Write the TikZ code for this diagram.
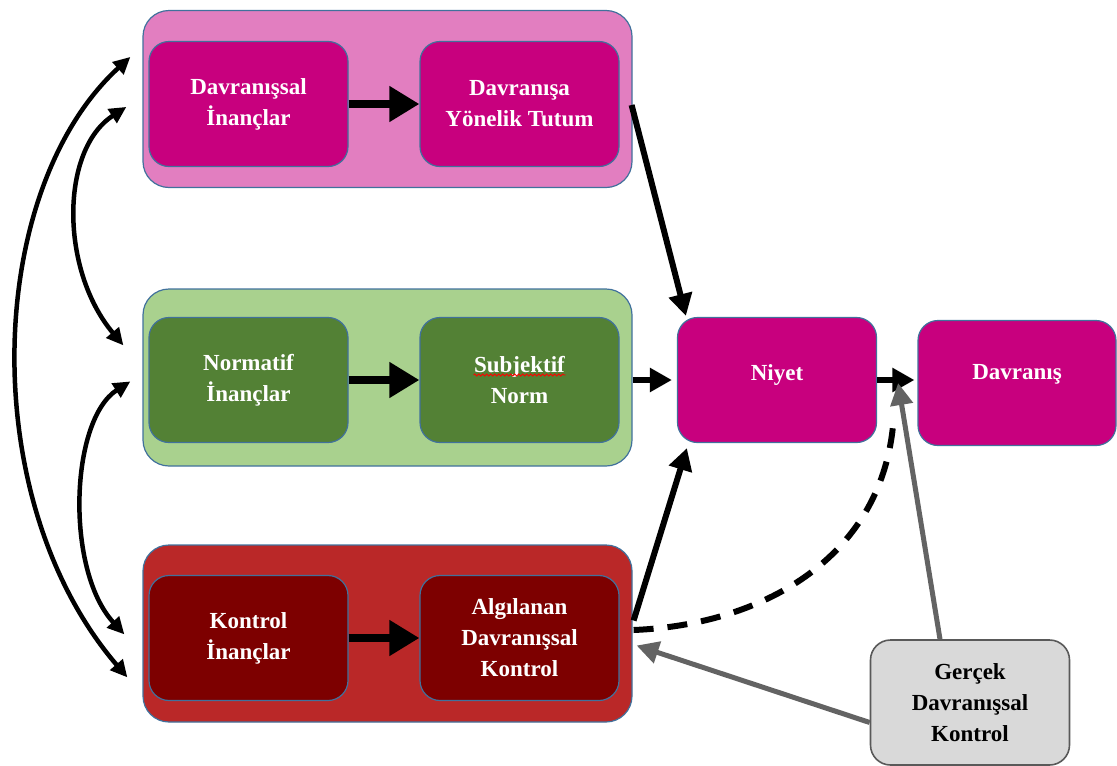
\documentclass[tikz,border=0pt]{standalone}
\usepackage{fontspec}
\setmainfont{Liberation Serif}
\usetikzlibrary{arrows.meta,calc,decorations.pathmorphing}

\definecolor{pinkin}{HTML}{C8007E}
\definecolor{pinkout}{HTML}{E27EC0}
\definecolor{greenin}{HTML}{538135}
\definecolor{greenout}{HTML}{A9D18E}
\definecolor{redin}{HTML}{7D0000}
\definecolor{redout}{HTML}{BA2828}
\definecolor{edgeblue}{HTML}{41719C}
\definecolor{boxgray}{HTML}{D9D9D9}
\definecolor{edgegray}{HTML}{595959}
\definecolor{arrowgray}{HTML}{636363}

\begin{document}
\begin{tikzpicture}[x=1pt,y=-1pt,
  group/.style={draw=edgeblue, line width=1.2pt, rounded corners=26pt,
    minimum width=489pt, minimum height=177pt, inner sep=0pt},
  box/.style={draw=edgeblue, line width=1.2pt, rounded corners=20pt,
    minimum width=199pt, minimum height=125pt, inner sep=0pt, align=center,
    text=white, font=\bfseries\fontsize{23}{31}\selectfont},
  graybox/.style={box, draw=edgegray, line width=1.6pt, fill=boxgray, text=black},
  fat arrow/.style={line width=8pt, -{Triangle[length=30pt,width=34pt]}},
  link arrow/.style={line width=6pt, -{Triangle[length=22pt,width=23pt]}},
  both arrow/.style={line width=4.5pt,
    {Triangle[length=17pt,width=16pt]}-{Triangle[length=17pt,width=16pt]}},
  gray arrow/.style={arrowgray, line width=5pt, -{Triangle[length=22pt,width=22pt]}},
  dash link/.style={line width=6pt, dash pattern=on 20pt off 14pt}
]
\useasboundingbox (0,0) rectangle (1117,766);

% outer groups
\node[group, fill=pinkout]  (grpA) at (387.5,99)   {};
\node[group, fill=greenout] (grpB) at (387.5,377.5) {};
\node[group, fill=redout]   (grpC) at (387.5,633.5) {};

% inner boxes
\node[box, fill=pinkin]  (bel) at (248.5,104) {Davranışsal\\İnançlar};
\node[box, fill=pinkin]  (tut) at (519.5,104) {Davranışa\\Yönelik Tutum};
\node[box, fill=greenin] (nor) at (248.5,380) {Normatif\\İnançlar};
\node[box, fill=greenin] (sub) at (519.5,380) {Subjektif\\Norm};
\node[box, fill=redin]   (kon) at (248.5,638) {Kontrol\\İnançlar};
\node[box, fill=redin]   (alg) at (519.5,638) {Algılanan\\Davranışsal\\Kontrol};

\node[box, fill=pinkin] (niyet) at (777,380) {\raisebox{5pt}[\height][\depth]{Niyet}};
\node[box, fill=pinkin, minimum width=198pt] (davr) at (1017,383)
  {\raisebox{9pt}[\height][\depth]{Davranış}};
\node[graybox] (gerc) at (970,702.5) {Gerçek\\Davranışsal\\Kontrol};

% spell-check underline
\draw[red, line width=0.8pt, decorate, decoration={snake, amplitude=1pt, segment length=4pt}]
  ($(sub.center)+(-46,-5)$) -- ($(sub.center)+(46,-5)$);

% arrows inside groups
\draw[fat arrow] (bel) -- (tut);
\draw[fat arrow] (nor) -- (sub);
\draw[fat arrow] (kon) -- (alg);

% into intention and behaviour
\draw[link arrow] ($(grpA.east)+(-1,6)$) -- ($(niyet.north west)+(9,-1)$);
\draw[link arrow, shorten >=5pt] (grpB.east |- niyet.west) -- (niyet.west);
\draw[link arrow] ($(grpC.east)+(1,-13)$) -- ($(niyet.south west)+(10,5)$);
\draw[link arrow, shorten >=3pt] (niyet.east) -- (davr.west |- niyet.east);

% actual behavioural control
\draw[dash link] ($(grpC.east)+(1,-3.5)$)
  .. controls (760,625) and (880,560) .. ($(niyet.east)+(16,45)$);
\draw[gray arrow] ($(gerc.north)+(-30,0)$) -- ($(niyet.east)+(21,3)$);
\draw[gray arrow] ($(gerc.west)+(0,20)$) -- ($(grpC.east)+(4,12)$);

% correlations between belief groups
\draw[both arrow] ($(grpA.north west)+(-12,47)$)
  .. controls (-15,190) and (-25,500) .. ($(grpC.north west)+(-15,133)$);
\draw[both arrow] ($(grpA.north west)+(-16,97)$)
  .. controls (60,150) and (60,270) .. ($(grpB.north west)+(-19,57)$);
\draw[both arrow] ($(grpB.north west)+(-12,93)$)
  .. controls (70,420) and (65,570) .. ($(grpC.north west)+(-18,90)$);
\end{tikzpicture}
\end{document}
